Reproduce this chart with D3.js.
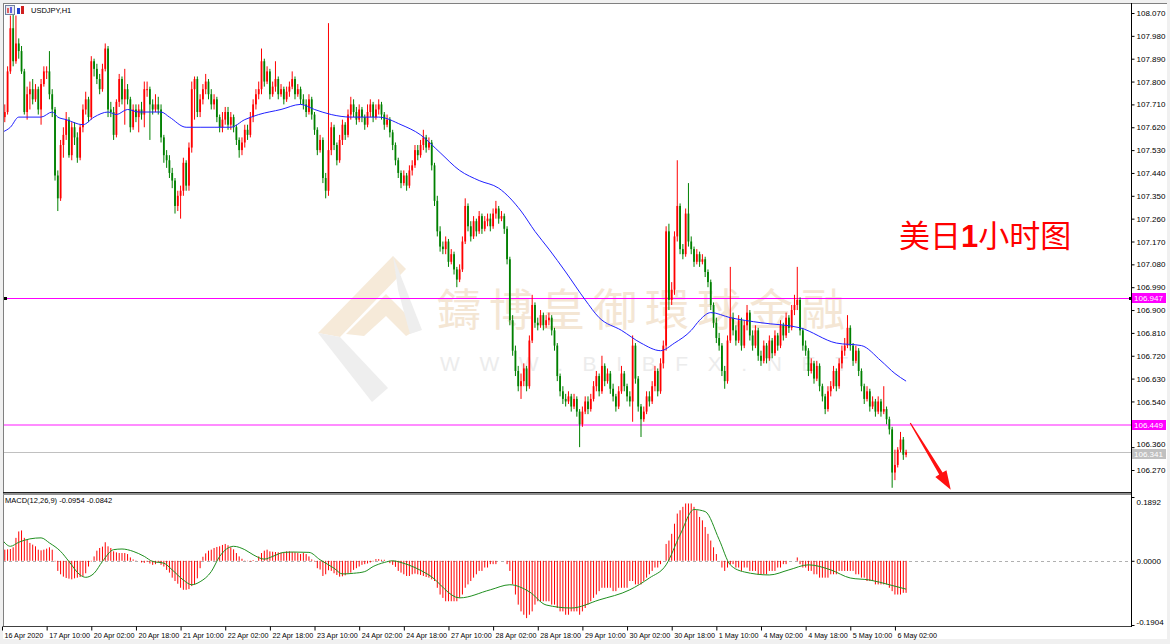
<!DOCTYPE html>
<html>
<head>
<meta charset="utf-8">
<script src="https://cdn.jsdelivr.net/npm/d3@7"></script>
<style>
body { margin: 0; background: #f0f0f0; }
svg { display: block; font-family: "Liberation Sans", Arial, sans-serif; }
</style>
</head>
<body>
<svg id="chart" width="1170" height="644"></svg>
<script>
// USDJPY H1 candles (one value per hour bar)
const opens = [
107.69,107.66,107.68,107.84,108.01,107.88,107.95,107.92,107.84,107.68,
107.75,107.77,107.73,107.77,107.69,107.79,107.84,107.84,107.75,107.69,
107.43,107.34,107.55,107.59,107.65,107.51,107.62,107.58,107.50,107.62,
107.69,107.73,107.66,107.88,107.85,107.81,107.77,107.85,107.93,107.69,
107.68,107.59,107.72,107.81,107.73,107.77,107.73,107.62,107.69,107.66,
107.69,107.67,107.77,107.77,107.71,107.69,107.71,107.69,107.58,107.51,
107.49,107.44,107.41,107.31,107.35,107.37,107.48,107.39,107.54,107.77,
107.81,107.68,107.73,107.77,107.80,107.75,107.71,107.73,107.66,107.62,
107.65,107.68,107.63,107.66,107.62,107.57,107.53,107.56,107.61,107.59,
107.66,107.71,107.75,107.77,107.88,107.80,107.84,107.75,107.78,107.81,
107.75,107.77,107.73,107.76,107.78,107.81,107.75,107.77,107.73,107.71,
107.68,107.73,107.67,107.61,107.53,107.57,107.42,107.37,107.53,107.62,
107.55,107.49,107.57,107.63,107.59,107.67,107.71,107.68,107.65,107.69,
107.66,107.63,107.68,107.71,107.66,107.69,107.71,107.67,107.63,107.65,
107.60,107.55,107.49,107.44,107.40,107.43,107.39,107.45,107.47,107.53,
107.51,107.55,107.58,107.54,107.56,107.47,107.33,107.21,107.15,107.14,
107.17,107.09,107.12,107.06,107.02,107.06,107.17,107.31,107.23,107.19,
107.25,107.21,107.27,107.22,107.25,107.26,107.23,107.28,107.30,107.26,
107.27,107.22,107.10,106.86,106.74,106.66,106.60,106.62,106.67,106.60,
106.78,106.92,106.85,106.84,106.88,106.84,106.86,106.87,106.82,106.76,
106.64,106.58,106.55,106.54,106.56,106.52,106.55,106.50,106.45,106.50,
106.54,106.51,106.55,106.60,106.64,106.58,106.68,106.62,106.65,106.59,
106.56,106.52,106.58,106.65,106.60,106.56,106.54,106.76,106.63,106.52,
106.47,106.50,106.56,106.54,106.60,106.66,106.58,106.69,106.76,107.21,
106.94,106.98,107.19,107.31,107.14,107.12,107.28,107.17,107.14,107.09,
107.12,107.09,107.10,107.05,107.01,106.92,106.85,106.79,106.76,106.66,
106.62,106.78,106.87,106.82,106.78,106.86,106.76,106.84,106.89,106.80,
106.76,106.82,106.72,106.70,106.76,106.71,106.78,106.73,106.80,106.76,
106.84,106.80,106.87,106.83,106.90,106.92,106.94,106.82,106.76,106.74,
106.66,106.69,106.63,106.68,106.60,106.56,106.51,106.58,106.60,106.66,
106.60,106.69,106.74,106.76,106.83,106.76,106.70,106.74,106.66,106.60,
106.55,106.58,106.52,106.54,106.50,106.54,106.50,106.51,106.47,106.43,
106.26,106.29,106.35,106.39,106.33
];
const highs = [
107.72,107.71,107.86,108.06,108.09,108.06,107.97,107.94,107.85,107.78,
107.80,107.81,107.79,107.78,107.81,107.86,107.86,107.92,107.77,107.70,
107.45,107.57,107.62,107.68,107.66,107.64,107.64,107.60,107.63,107.71,
107.76,107.74,107.90,107.89,107.87,107.83,107.87,107.95,107.94,107.72,
107.70,107.73,107.83,107.82,107.85,107.79,107.74,107.71,107.71,107.71,
107.72,107.80,107.80,107.78,107.73,107.75,107.74,107.71,107.59,107.53,
107.51,107.46,107.42,107.37,107.39,107.50,107.49,107.56,107.80,107.82,
107.82,107.75,107.79,107.83,107.81,107.77,107.75,107.74,107.67,107.68,
107.70,107.70,107.68,107.67,107.63,107.58,107.58,107.63,107.63,107.68,
107.73,107.77,107.80,107.93,107.89,107.86,107.85,107.80,107.88,107.82,
107.79,107.78,107.78,107.80,107.84,107.82,107.79,107.78,107.75,107.73,
107.75,107.74,107.68,107.62,107.59,107.58,107.44,108.03,107.64,107.63,
107.56,107.59,107.65,107.64,107.69,107.74,107.73,107.70,107.71,107.70,
107.67,107.71,107.73,107.72,107.71,107.73,107.72,107.68,107.67,107.66,
107.61,107.56,107.50,107.45,107.45,107.44,107.47,107.49,107.55,107.55,
107.57,107.61,107.59,107.58,107.57,107.48,107.35,107.23,107.17,107.19,
107.18,107.14,107.13,107.07,107.08,107.19,107.34,107.32,107.25,107.27,
107.26,107.29,107.28,107.27,107.28,107.28,107.30,107.33,107.31,107.29,
107.28,107.23,107.11,106.88,106.76,106.68,106.65,106.69,106.68,106.80,
106.96,106.93,106.87,106.90,106.89,106.88,106.89,106.88,106.83,106.77,
106.65,106.60,106.57,106.58,106.57,106.57,106.56,106.51,106.52,106.56,
106.56,106.57,106.62,106.66,106.65,106.72,106.69,106.67,106.66,106.61,
106.57,106.60,106.68,106.66,106.61,106.58,106.80,106.77,106.64,106.53,
106.52,106.58,106.58,106.62,106.68,106.67,106.71,106.78,107.23,107.24,
107.01,107.21,107.49,107.32,107.16,107.30,107.40,107.19,107.15,107.14,
107.13,107.12,107.11,107.06,107.02,106.93,106.87,106.81,106.77,106.68,
106.80,107.07,106.89,106.84,106.88,106.87,106.86,106.92,106.90,106.82,
106.84,106.83,106.74,106.78,106.77,106.80,106.79,106.82,106.81,106.86,
106.85,106.89,106.88,106.92,106.96,107.07,106.95,106.83,106.78,106.75,
106.71,106.70,106.70,106.69,106.61,106.57,106.60,106.62,106.68,106.67,
106.71,106.76,106.79,106.88,106.84,106.77,106.76,106.75,106.67,106.61,
106.60,106.59,106.56,106.55,106.56,106.55,106.60,106.52,106.48,106.44,
106.35,106.36,106.42,106.40,106.35
];
const lows = [
107.63,107.64,107.67,107.83,107.86,107.87,107.89,107.83,107.67,107.65,
107.69,107.71,107.72,107.67,107.63,107.78,107.81,107.73,107.66,107.41,
107.29,107.33,107.50,107.57,107.50,107.49,107.55,107.48,107.49,107.60,
107.67,107.64,107.65,107.82,107.79,107.75,107.76,107.84,107.66,107.66,
107.57,107.58,107.70,107.71,107.63,107.71,107.60,107.61,107.64,107.60,
107.65,107.62,107.74,107.57,107.67,107.68,107.67,107.56,107.48,107.46,
107.42,107.38,107.28,107.29,107.26,107.35,107.37,107.37,107.52,107.65,
107.66,107.66,107.71,107.75,107.73,107.69,107.69,107.64,107.60,107.60,
107.63,107.61,107.61,107.60,107.55,107.50,107.51,107.54,107.57,107.58,
107.64,107.69,107.73,107.75,107.78,107.79,107.73,107.74,107.76,107.73,
107.74,107.71,107.72,107.74,107.77,107.73,107.74,107.71,107.69,107.66,
107.67,107.65,107.59,107.51,107.52,107.40,107.34,107.35,107.51,107.53,
107.47,107.48,107.55,107.57,107.58,107.65,107.66,107.63,107.64,107.64,
107.61,107.62,107.66,107.64,107.65,107.67,107.65,107.61,107.62,107.58,
107.53,107.47,107.42,107.38,107.39,107.37,107.38,107.43,107.46,107.49,
107.50,107.53,107.52,107.53,107.45,107.31,107.19,107.13,107.12,107.12,
107.07,107.08,107.04,106.99,107.01,107.05,107.16,107.21,107.17,107.18,
107.19,107.20,107.20,107.21,107.23,107.21,107.22,107.26,107.24,107.25,
107.20,107.08,106.84,106.72,106.64,106.58,106.55,106.60,106.58,106.59,
106.77,106.83,106.82,106.83,106.82,106.83,106.84,106.80,106.74,106.62,
106.56,106.53,106.52,106.53,106.50,106.51,106.48,106.36,106.44,106.49,
106.49,106.50,106.54,106.58,106.56,106.57,106.60,106.61,106.57,106.54,
106.50,106.51,106.57,106.58,106.54,106.52,106.46,106.61,106.50,106.40,
106.46,106.49,106.52,106.53,106.58,106.56,106.57,106.67,106.74,106.90,
106.92,106.96,107.17,107.12,107.10,107.11,107.15,107.12,107.07,107.08,
107.07,107.08,107.03,106.99,106.90,106.83,106.77,106.74,106.64,106.59,
106.61,106.77,106.80,106.76,106.77,106.74,106.75,106.82,106.78,106.74,
106.75,106.70,106.68,106.69,106.69,106.70,106.71,106.72,106.74,106.75,
106.78,106.79,106.81,106.82,106.88,106.90,106.80,106.74,106.72,106.64,
106.65,106.61,106.62,106.58,106.54,106.49,106.50,106.56,106.59,106.58,
106.59,106.67,106.72,106.75,106.74,106.68,106.69,106.64,106.58,106.53,
106.54,106.50,106.51,106.48,106.49,106.48,106.49,106.45,106.41,106.20,
106.23,106.28,106.34,106.31,106.32
];
const closes = [
107.66,107.68,107.84,108.01,107.88,107.95,107.92,107.84,107.68,107.75,
107.77,107.73,107.77,107.69,107.79,107.84,107.84,107.75,107.69,107.43,
107.34,107.55,107.59,107.65,107.51,107.62,107.58,107.50,107.62,107.69,
107.73,107.66,107.88,107.85,107.81,107.77,107.85,107.93,107.69,107.68,
107.59,107.72,107.81,107.73,107.77,107.73,107.62,107.69,107.66,107.69,
107.67,107.77,107.77,107.71,107.69,107.71,107.69,107.58,107.51,107.49,
107.44,107.41,107.31,107.35,107.37,107.48,107.39,107.54,107.77,107.81,
107.68,107.73,107.77,107.80,107.75,107.71,107.73,107.66,107.62,107.65,
107.68,107.63,107.66,107.62,107.57,107.53,107.56,107.61,107.59,107.66,
107.71,107.75,107.77,107.88,107.80,107.84,107.75,107.78,107.81,107.75,
107.77,107.73,107.76,107.78,107.81,107.75,107.77,107.73,107.71,107.68,
107.73,107.67,107.61,107.53,107.57,107.42,107.37,107.53,107.62,107.55,
107.49,107.57,107.63,107.59,107.67,107.71,107.68,107.65,107.69,107.66,
107.63,107.68,107.71,107.66,107.69,107.71,107.67,107.63,107.65,107.60,
107.55,107.49,107.44,107.40,107.43,107.39,107.45,107.47,107.53,107.51,
107.55,107.58,107.54,107.56,107.47,107.33,107.21,107.15,107.14,107.17,
107.09,107.12,107.06,107.02,107.06,107.17,107.31,107.23,107.19,107.25,
107.21,107.27,107.22,107.25,107.26,107.23,107.28,107.30,107.26,107.27,
107.22,107.10,106.86,106.74,106.66,106.60,106.62,106.67,106.60,106.78,
106.92,106.85,106.84,106.88,106.84,106.86,106.87,106.82,106.76,106.64,
106.58,106.55,106.54,106.56,106.52,106.55,106.50,106.45,106.50,106.54,
106.51,106.55,106.60,106.64,106.58,106.68,106.62,106.65,106.59,106.56,
106.52,106.58,106.65,106.60,106.56,106.54,106.76,106.63,106.52,106.47,
106.50,106.56,106.54,106.60,106.66,106.58,106.69,106.76,107.21,106.94,
106.98,107.19,107.31,107.14,107.12,107.28,107.17,107.14,107.09,107.12,
107.09,107.10,107.05,107.01,106.92,106.85,106.79,106.76,106.66,106.62,
106.78,106.87,106.82,106.78,106.86,106.76,106.84,106.89,106.80,106.76,
106.82,106.72,106.70,106.76,106.71,106.78,106.73,106.80,106.76,106.84,
106.80,106.87,106.83,106.90,106.92,106.94,106.82,106.76,106.74,106.66,
106.69,106.63,106.68,106.60,106.56,106.51,106.58,106.60,106.66,106.60,
106.69,106.74,106.76,106.83,106.76,106.70,106.74,106.66,106.60,106.55,
106.58,106.52,106.54,106.50,106.54,106.50,106.51,106.47,106.43,106.26,
106.29,106.35,106.39,106.33,106.34
];

// blue moving average, read at sample bars
const maBars = [0,3,6,14,18,20,23,29,33,38,41,45,49,57,60,66,71,76,82,87,92,100,107,112,118,125,135,143,150,157,164,171,178,186,191,196,202,209,214,222,229,236,241,247,250,254,261,272,286,299,308,315,320,324];
const maValues = [107.60,107.62,107.66,107.66,107.68,107.66,107.65,107.63,107.66,107.68,107.67,107.69,107.68,107.68,107.66,107.62,107.62,107.62,107.62,107.65,107.67,107.69,107.71,107.69,107.67,107.66,107.66,107.63,107.59,107.52,107.45,107.41,107.38,107.29,107.21,107.14,107.05,106.94,106.87,106.82,106.77,106.74,106.77,106.82,106.86,106.89,106.87,106.85,106.83,106.77,106.76,106.70,106.65,106.62];

// MACD(12,26,9) histogram, one per bar
const macdHist = [
0.030,0.033,0.034,0.035,0.040,0.068,0.087,0.090,0.068,0.062,
0.053,0.048,0.043,0.033,0.031,0.033,0.036,0.040,0.033,-0.002,
-0.030,-0.040,-0.047,-0.051,-0.053,-0.055,-0.052,-0.050,-0.048,-0.045,
-0.037,-0.017,-0.002,0.013,0.030,0.038,0.042,0.055,0.043,0.038,
0.028,0.025,0.023,0.023,0.023,0.020,0.010,0.004,0.001,0.000,
-0.005,-0.006,-0.003,-0.008,-0.012,-0.010,-0.005,-0.012,-0.017,-0.027,
-0.035,-0.050,-0.060,-0.068,-0.080,-0.086,-0.086,-0.084,-0.075,-0.070,
-0.052,-0.022,0.012,0.022,0.030,0.033,0.038,0.041,0.043,0.047,
0.050,0.046,0.040,0.034,0.023,0.013,0.006,0.001,-0.001,-0.002,
0.002,0.000,0.013,0.023,0.030,0.033,0.028,0.027,0.026,0.025,
0.024,0.025,0.028,0.028,0.026,0.025,0.023,0.020,0.023,0.020,
0.013,0.004,-0.002,-0.022,-0.026,-0.045,-0.040,-0.028,-0.030,-0.037,
-0.042,-0.047,-0.046,-0.043,-0.038,-0.035,-0.027,-0.022,-0.017,-0.012,
-0.010,-0.008,-0.005,-0.002,0.005,0.005,0.003,0.003,0.000,-0.007,
-0.012,-0.018,-0.030,-0.035,-0.040,-0.045,-0.045,-0.040,-0.038,-0.040,
-0.042,-0.045,-0.048,-0.050,-0.055,-0.060,-0.080,-0.100,-0.110,-0.120,
-0.120,-0.120,-0.120,-0.120,-0.110,-0.100,-0.080,-0.070,-0.060,-0.050,
-0.040,-0.030,-0.030,-0.020,-0.020,-0.010,-0.010,-0.010,0.000,0.000,
0.000,-0.010,-0.030,-0.070,-0.100,-0.130,-0.150,-0.160,-0.170,-0.160,
-0.150,-0.130,-0.120,-0.120,-0.120,-0.120,-0.120,-0.130,-0.130,-0.140,
-0.150,-0.150,-0.160,-0.160,-0.150,-0.150,-0.150,-0.160,-0.150,-0.140,
-0.130,-0.120,-0.110,-0.100,-0.090,-0.080,-0.080,-0.080,-0.080,-0.090,
-0.090,-0.080,-0.080,-0.080,-0.080,-0.060,-0.060,-0.070,-0.070,-0.070,
-0.060,-0.050,-0.040,-0.030,-0.020,-0.020,-0.010,0.000,0.050,0.060,
0.080,0.110,0.140,0.150,0.160,0.170,0.170,0.170,0.160,0.150,
0.130,0.120,0.100,0.080,0.060,0.040,0.020,0.000,-0.020,-0.030,
-0.020,-0.010,-0.010,-0.020,-0.020,-0.030,-0.020,-0.020,-0.030,-0.030,
-0.030,-0.040,-0.040,-0.040,-0.040,-0.030,-0.030,-0.030,-0.020,-0.020,
-0.010,-0.010,0.000,0.000,0.000,0.010,-0.010,-0.020,-0.020,-0.030,
-0.030,-0.040,-0.040,-0.050,-0.050,-0.050,-0.050,-0.040,-0.040,-0.040,
-0.030,-0.030,-0.030,-0.030,-0.030,-0.030,-0.040,-0.040,-0.050,-0.050,
-0.060,-0.060,-0.060,-0.070,-0.070,-0.070,-0.070,-0.070,-0.080,-0.090,
-0.100,-0.100,-0.100,-0.095,-0.095
];
// MACD signal line, read at sample bars
const signalBars = [0,3,6,10,14,17,21,24,28,30,33,36,40,43,47,51,54,58,61,65,68,71,75,78,83,87,90,94,97,101,104,110,114,119,122,126,130,133,137,140,143,153,164,175,182,189,195,204,214,225,232,238,243,248,252,257,261,266,275,282,289,297,304,311,318,324];
const signalValues = [0.063,0.043,0.055,0.065,0.068,0.053,0.028,-0.002,-0.042,-0.049,-0.037,-0.002,0.033,0.035,0.028,0.013,-0.002,-0.007,-0.027,-0.057,-0.071,-0.062,-0.032,0.013,0.043,0.033,0.018,0.005,0.013,0.025,0.026,0.025,0.003,-0.022,-0.039,-0.037,-0.032,-0.017,-0.005,0.000,-0.005,-0.042,-0.110,-0.086,-0.071,-0.092,-0.131,-0.140,-0.116,-0.086,-0.051,-0.012,0.077,0.152,0.146,0.063,-0.012,-0.033,-0.042,-0.027,-0.012,-0.027,-0.051,-0.057,-0.071,-0.084];

// axis ticks (106.450 sits under the 106.449 price box, so it shows no text)
const priceTicks = [108.070,107.980,107.890,107.800,107.710,107.620,107.530,107.440,107.350,107.260,107.170,107.080,106.990,106.900,106.810,106.720,106.630,106.540,106.450,106.360,106.270];
const hiddenTick = 106.450;
const macdTicks = [0.1892, 0.0000, -0.1904];
const dateLabels = ["16 Apr 2020","17 Apr 10:00","20 Apr 02:00","20 Apr 18:00","21 Apr 10:00","22 Apr 02:00","22 Apr 18:00","23 Apr 10:00","24 Apr 02:00","24 Apr 18:00","27 Apr 10:00","28 Apr 02:00","28 Apr 18:00","29 Apr 10:00","30 Apr 02:00","30 Apr 18:00","1 May 10:00","4 May 02:00","4 May 18:00","5 May 10:00","6 May 02:00"];
const barsPerLabel = 16;

// horizontal levels
const levels = [
    { value: 106.947, color: "#ff00ff", width: 1, box: "#ff00ff", marker: true },
    { value: 106.449, color: "#ff8cff", width: 2, box: "#ff00ff", marker: false },
    { value: 106.341, color: "#c0c0c0", width: 1, box: "#c0c0c0", marker: false }
];

// layout
const plotLeft = 3, plotRight = 1131;
const mainTop = 4, mainBottom = 492;
const macdTop = 495, macdBottom = 626;

const x = d3.scaleLinear().domain([0, 404.6]).range([2, plotRight]);
const y = d3.scaleLinear().domain([106.270, 108.070]).range([470, 13]);
const ym = d3.scaleLinear().domain([-0.1904, 0.1892]).range([625, 497]);

const svg = d3.select("#chart");

svg.append("rect").attr("width", 1170).attr("height", 644).attr("fill", "#f0f0f0");
svg.append("rect").attr("x", 3).attr("y", 3).attr("width", 1164).attr("height", 636).attr("fill", "#fff");

const defs = svg.append("defs");
defs.append("clipPath").attr("id", "clipMain").append("rect")
    .attr("x", plotLeft).attr("y", mainTop).attr("width", plotRight - plotLeft).attr("height", mainBottom - mainTop);
defs.append("clipPath").attr("id", "clipMacd").append("rect")
    .attr("x", plotLeft).attr("y", macdTop).attr("width", plotRight - plotLeft).attr("height", macdBottom - macdTop);

// watermark
const wm = svg.append("g").attr("clip-path", "url(#clipMain)");
wm.append("polygon").attr("points", "318,333 393,256 406,269 340,337").attr("fill", "#f6ead9");
wm.append("polygon").attr("points", "318,333 340,337 388,388 372,402").attr("fill", "#eeeeee");
wm.append("polygon").attr("points", "346,334 386,294 420,328 406,336 386,316 364,336").attr("fill", "#f6ead9");
wm.append("polygon").attr("points", "393,256 422,330 410,334 398,290").attr("fill", "#eeeeee");
wm.append("text")
    .attr("x", 437).attr("y", 326)
    .attr("textLength", 408).attr("lengthAdjust", "spacing")
    .attr("font-family", "Noto Sans CJK TC, Noto Sans CJK SC, sans-serif")
    .attr("font-size", 44)
    .attr("fill", "#f4e6d4")
    .text("鑄博皇御環球金融");
wm.append("text")
    .attr("x", 440).attr("y", 371)
    .attr("textLength", 408).attr("lengthAdjust", "spacing")
    .attr("font-size", 21)
    .attr("fill", "#ececec")
    .text("WWW.BIBFX.NET");

// level lines
levels.forEach(lv => {
    const ly = lv.width === 2 ? Math.round(y(lv.value)) : Math.round(y(lv.value)) + 0.5;
    svg.append("line")
        .attr("x1", plotLeft).attr("x2", plotRight)
        .attr("y1", ly).attr("y2", ly)
        .attr("stroke", lv.color).attr("stroke-width", lv.width);
});

// candles
const bars = closes.map((c, i) => ({ i: i, o: opens[i], h: highs[i], l: lows[i], c: c }));
const up = "#ff0000", down = "#008000";
const cg = svg.append("g").attr("clip-path", "url(#clipMain)");
cg.selectAll("line.wick")
    .data(bars)
    .enter()
    .append("line")
    .attr("class", "wick")
    .attr("x1", d => x(d.i)).attr("x2", d => x(d.i))
    .attr("y1", d => y(d.h)).attr("y2", d => y(d.l))
    .attr("stroke", d => d.c >= d.o ? up : down)
    .attr("stroke-width", 1);
cg.selectAll("rect.body")
    .data(bars)
    .enter()
    .append("rect")
    .attr("class", "body")
    .attr("x", d => x(d.i) - 0.9)
    .attr("width", 1.8)
    .attr("y", d => y(Math.max(d.o, d.c)))
    .attr("height", d => Math.max(1, Math.abs(y(d.o) - y(d.c))))
    .attr("fill", d => d.c >= d.o ? up : down);

// moving average
const maLine = d3.line()
    .x((d, i) => x(maBars[i]))
    .y(d => y(d))
    .curve(d3.curveMonotoneX);
svg.append("path")
    .datum(maValues)
    .attr("clip-path", "url(#clipMain)")
    .attr("fill", "none")
    .attr("stroke", "#2020ff")
    .attr("stroke-width", 1)
    .attr("d", maLine);

// level markers
levels.filter(lv => lv.marker).forEach(lv => {
    [plotLeft + 1, plotRight - 2].forEach(px => {
        svg.append("rect").attr("x", px).attr("y", Math.round(y(lv.value)) - 1)
            .attr("width", 3).attr("height", 3).attr("fill", "#000");
    });
});

// annotation text
const note = svg.append("text")
    .attr("x", 899).attr("y", 247)
    .attr("font-family", "Noto Sans CJK SC, sans-serif")
    .attr("font-size", 31)
    .attr("fill", "#ff0000");
note.append("tspan").text("美日");
note.append("tspan").attr("font-weight", "bold").attr("font-family", "Liberation Sans, Arial, sans-serif").text("1");
note.append("tspan").text("小时图");

// red arrow
const arrowFrom = [x(325.5), y(106.455)];
const arrowTo = [x(340), y(106.192)];
(function drawArrow(p0, p1) {
    const dx = p1[0] - p0[0], dy = p1[1] - p0[1];
    const len = Math.hypot(dx, dy), ux = dx / len, uy = dy / len, px = -uy, py = ux;
    const headLen = 19, headW = 6.5, shaftStart = 0.6, shaftEnd = 2;
    const bx = p1[0] - ux * headLen, by = p1[1] - uy * headLen;
    const pts = [
        [p0[0] + px * shaftStart, p0[1] + py * shaftStart],
        [bx + px * shaftEnd, by + py * shaftEnd],
        [bx + px * headW, by + py * headW],
        p1,
        [bx - px * headW, by - py * headW],
        [bx - px * shaftEnd, by - py * shaftEnd],
        [p0[0] - px * shaftStart, p0[1] - py * shaftStart]
    ];
    svg.append("polygon").attr("points", pts.map(p => p.join(",")).join(" ")).attr("fill", "#ff1010");
})(arrowFrom, arrowTo);

// MACD panel
svg.append("line")
    .attr("x1", plotLeft).attr("x2", plotRight)
    .attr("y1", Math.round(ym(0)) + 0.5).attr("y2", Math.round(ym(0)) + 0.5)
    .attr("stroke", "#b0b0b0").attr("stroke-dasharray", "3,3");
const mg = svg.append("g").attr("clip-path", "url(#clipMacd)");
mg.selectAll("line.hist")
    .data(macdHist)
    .enter()
    .append("line")
    .attr("class", "hist")
    .attr("x1", (d, i) => x(i)).attr("x2", (d, i) => x(i))
    .attr("y1", ym(0)).attr("y2", d => ym(d))
    .attr("stroke", "#ff0000").attr("stroke-width", 1);
const sigLine = d3.line()
    .x((d, i) => x(signalBars[i]))
    .y(d => ym(d))
    .curve(d3.curveMonotoneX);
mg.append("path")
    .datum(signalValues)
    .attr("fill", "none")
    .attr("stroke", "#1f8f1f")
    .attr("stroke-width", 1)
    .attr("d", sigLine);

// frames
svg.append("line").attr("x1", 3.5).attr("x2", 3.5).attr("y1", 3).attr("y2", 627).attr("stroke", "#808080");
svg.append("line").attr("x1", 3).attr("x2", 1167).attr("y1", 3.5).attr("y2", 3.5).attr("stroke", "#808080");
svg.append("rect").attr("x", 3).attr("y", mainBottom).attr("width", plotRight - 3).attr("height", 1.5).attr("fill", "#202020");
svg.append("rect").attr("x", 3).attr("y", mainBottom + 1.5).attr("width", plotRight - 3).attr("height", 1.5).attr("fill", "#909090");
svg.append("line").attr("x1", 3).attr("x2", plotRight + 1).attr("y1", macdBottom + 0.5).attr("y2", macdBottom + 0.5).attr("stroke", "#404040");

// price axis
const fontAxis = 8;
const yAxis = svg.append("g")
    .attr("transform", `translate(${plotRight + 0.5},0)`)
    .call(d3.axisRight(y).tickValues(priceTicks).tickSize(3).tickPadding(2)
        .tickFormat(d => d === hiddenTick ? "" : d.toFixed(3)));
yAxis.select(".domain").remove();
yAxis.selectAll("text").attr("font-size", fontAxis).attr("font-family", "Liberation Sans, Arial, sans-serif").attr("fill", "#000");
yAxis.selectAll("line").attr("stroke", "#000");
// the 106.360 label peeks out above the grey box in the reference
yAxis.selectAll(".tick").filter(d => d === 106.360).select("text").attr("dy", "-0.05em");

const mAxis = svg.append("g")
    .attr("transform", `translate(${plotRight + 0.5},0)`)
    .call(d3.axisRight(ym).tickValues(macdTicks).tickSize(3).tickPadding(2).tickFormat(d => d.toFixed(4)));
mAxis.select(".domain").remove();
mAxis.selectAll("text").attr("font-size", fontAxis).attr("font-family", "Liberation Sans, Arial, sans-serif").attr("fill", "#000");
mAxis.selectAll("line").attr("stroke", "#000");
mAxis.selectAll(".tick").filter(d => d === 0.1892).select("text").attr("dy", "0.9em");
mAxis.selectAll(".tick").filter(d => d === -0.1904).select("text").attr("dy", "-0.1em");

svg.append("line").attr("x1", plotRight + 0.5).attr("x2", plotRight + 0.5).attr("y1", 3).attr("y2", macdBottom + 1).attr("stroke", "#000");

// level price boxes
levels.forEach(lv => {
    const cy = Math.round(y(lv.value));
    const top = lv.value === 106.341 ? cy - 3 : cy - 5;
    svg.append("rect").attr("x", plotRight + 1).attr("y", top).attr("width", 34).attr("height", 10).attr("fill", lv.box);
    svg.append("text").attr("x", plotRight + 3).attr("y", top + 5).attr("dy", "0.35em")
        .attr("font-size", fontAxis).attr("fill", "#fff").text(lv.value.toFixed(3));
});

// time axis
const xAxis = svg.append("g")
    .attr("transform", `translate(0,${macdBottom + 0.5})`)
    .call(d3.axisBottom(x)
        .tickValues(dateLabels.map((d, i) => i * barsPerLabel))
        .tickSize(4)
        .tickPadding(2)
        .tickFormat((d, i) => dateLabels[i]));
xAxis.select(".domain").remove();
xAxis.selectAll("line").attr("stroke", "#000");
xAxis.selectAll("text")
    .attr("text-anchor", "start")
    .attr("dx", 2)
    .attr("font-size", 7.2)
    .attr("font-family", "Liberation Sans, Arial, sans-serif")
    .attr("fill", "#000");

// titles
const icon = svg.append("g");
icon.append("rect").attr("x", 5.5).attr("y", 5.5).attr("width", 9).attr("height", 9).attr("fill", "#e8e8f0").attr("stroke", "#7080a0");
icon.append("rect").attr("x", 7).attr("y", 8).attr("width", 2).attr("height", 5).attr("fill", "#e06060");
icon.append("rect").attr("x", 10).attr("y", 7).attr("width", 2).attr("height", 6).attr("fill", "#6060e0");
icon.append("rect").attr("x", 17).attr("y", 8).attr("width", 3).attr("height", 6).attr("fill", "#2040d0");
icon.append("rect").attr("x", 21).attr("y", 6).attr("width", 3).attr("height", 8).attr("fill", "#d02020");
svg.append("text").attr("x", 31).attr("y", 13).attr("font-size", 7.5).attr("fill", "#000").text("USDJPY,H1");
svg.append("text").attr("x", 5).attr("y", 503).attr("font-size", 7.5).attr("fill", "#000").text("MACD(12,26,9) -0.0954 -0.0842");
</script>
</body>
</html>
